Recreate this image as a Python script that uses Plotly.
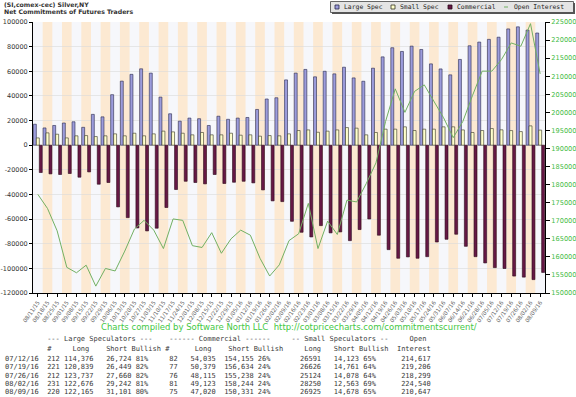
import plotly.graph_objects as go

# ---------------- data ----------------
dates = ["08/11/15","08/18/15","08/25/15","09/01/15","09/08/15","09/15/15","09/22/15","09/29/15",
         "10/06/15","10/13/15","10/20/15","10/27/15","11/03/15","11/10/15","11/17/15","11/24/15",
         "12/01/15","12/08/15","12/15/15","12/22/15","12/29/15","01/05/16","01/12/16","01/19/16",
         "01/26/16","02/02/16","02/09/16","02/16/16","02/23/16","03/01/16","03/08/16","03/15/16",
         "03/22/16","03/29/16","04/05/16","04/12/16","04/19/16","04/26/16","05/03/16","05/10/16",
         "05/17/16","05/24/16","05/31/16","06/07/16","06/14/16","06/21/16","06/28/16","07/05/16",
         "07/12/16","07/19/16","07/26/16","08/02/16","08/09/16"]

large_spec = [17000, 14000, 16000, 18000, 19000, 14500, 25000, 23000, 41000, 52000, 57500, 62000,
              58500, 39000, 25500, 19500, 22000, 21500, 16000, 23500, 21000, 22000, 22500, 29000,
              37500, 38500, 53000, 58500, 61500, 55500, 60000, 57900, 63300, 54600, 51900, 62500,
              71700, 79100, 76100, 80400, 77700, 66000, 61900, 57100, 69600, 80700, 83700, 85900,
              87652, 94390, 96077, 93434, 91064]

small_spec = [5900, 10000, 8900, 5900, 7600, 7800, 7000, 7600, 9200, 7600, 9700, 7600,
              9200, 11400, 10800, 9700, 8400, 10300, 8400, 8400, 9700, 8100, 8400, 7300,
              7800, 7600, 9200, 11900, 12400, 10500, 11400, 12400, 14300, 13800, 8400, 10300,
              13000, 13000, 14900, 11900, 13000, 13000, 14900, 14900, 12400, 10300, 11900, 13500,
              12468, 11865, 11046, 15687, 12247]

commercial = [-22200, -23300, -23800, -23000, -26000, -21700, -31700, -30300, -50100, -58800,
              -67200, -69600, -67400, -50600, -36000, -29300, -30300, -31400, -23800, -31100,
              -30100, -29300, -30600, -36300, -45200, -45800, -61800, -70700, -74500, -65300,
              -71200, -70400, -77500, -68500, -59900, -73100, -84800, -91800, -90700, -91800,
              -90500, -78600, -76400, -72300, -82100, -90500, -95600, -99400, -100120, -106255,
              -107123, -109121, -103311]

open_interest = [177300, 173400, 167200, 157100, 155600, 157700, 151900, 156800, 156100, 161600,
                 167700, 170100, 167400, 162300, 170500, 170100, 163100, 162600, 166700, 161000,
                 165000, 167400, 166000, 159600, 154700, 157800, 164500, 166400, 174800, 162300,
                 169900, 166200, 175700, 175200, 180300, 186000, 197500, 206500, 200000, 205800,
                 207600, 203000, 198500, 193000, 197500, 204700, 211400, 211400, 214617, 219206,
                 218299, 224540, 210647]

left_ticks = [100000, 80000, 60000, 40000, 20000, 0, -20000, -40000, -60000, -80000, -100000, -120000]
right_ticks = list(range(150000, 225001, 5000))

title_lines = ["(SI,comex-cec) Silver,NY", "Net Commitments of Futures Traders"]
legend_names = ["Large Spec", "Small Spec", "Commercial", "Open Interest"]
footer_text = "Charts compiled by Software North LLC  http://cotpricecharts.com/commitmentscurrent/"

tbl_dates = ["07/12/16", "07/19/16", "07/26/16", "08/02/16", "08/09/16"]
tbl_ls_n = [212, 221, 212, 231, 220]
tbl_ls_long = ["114,376", "120,839", "123,737", "122,676", "122,165"]
tbl_ls_short = ["26,724", "26,449", "27,660", "29,242", "31,101"]
tbl_ls_bull = ["81%", "82%", "82%", "81%", "80%"]
tbl_cm_n = [82, 77, 76, 81, 75]
tbl_cm_long = ["54,035", "50,379", "48,115", "49,123", "47,020"]
tbl_cm_short = ["154,155", "156,634", "155,238", "158,244", "150,331"]
tbl_cm_bull = ["26%", "24%", "24%", "24%", "24%"]
tbl_ss_long = ["26591", "26626", "25124", "28250", "26925"]
tbl_ss_short = ["14,123", "14,761", "14,078", "12,563", "14,678"]
tbl_ss_bull = ["65%", "64%", "64%", "69%", "65%"]
tbl_oi = ["214,617", "219,206", "218,299", "224,540", "210,647"]

# ---------------- styles ----------------
W, H = 576, 397
ML, MR, MT, MB = 33, 31, 22, 104
PW, PH = W - ML - MR, H - MT - MB

C_LARGE = "#9c9cdc"
C_SMALL = "#ffffcc"
C_COMM = "#661845"
C_OI = "#72b062"
C_BAND1 = "#f6f7fb"
C_BAND2 = "#fce9d2"
MONO = "DejaVu Sans Mono"
SANS = "DejaVu Sans"


def px(x):
    return (x - ML) / PW


def py(y):
    return (H - MB - y) / PH


xs = list(range(len(dates)))

fig = go.Figure()
fig.add_trace(go.Bar(x=xs, y=large_spec, name=legend_names[0], marker=dict(color=C_LARGE, line=dict(color="#26264a", width=0.6))))
fig.add_trace(go.Bar(x=xs, y=small_spec, name=legend_names[1], marker=dict(color=C_SMALL, line=dict(color="#333322", width=0.6))))
fig.add_trace(go.Bar(x=xs, y=commercial, name=legend_names[2], marker=dict(color=C_COMM, line=dict(color="#2a0818", width=0.6))))
fig.add_trace(go.Scatter(x=xs, y=open_interest, name=legend_names[3], mode="lines", yaxis="y2",
                         line=dict(color=C_OI, width=1)))

shapes = []
for i in xs:
    if i % 2 == 1:
        shapes.append(dict(type="rect", xref="x", yref="paper", x0=i - 0.5, x1=i + 0.5, y0=0, y1=1,
                           fillcolor=C_BAND2, line=dict(width=0), layer="below"))

# legend box (manual)
shapes.append(dict(type="rect", xref="paper", yref="paper", x0=px(332), x1=px(575), y0=py(14), y1=py(3),
                   fillcolor="#555555", line=dict(width=0), layer="above"))
shapes.append(dict(type="rect", xref="paper", yref="paper", x0=px(330.5), x1=px(573.5), y0=py(12.5), y1=py(1.5),
                   fillcolor="#e4e4e4", line=dict(color="#444444", width=0.8), layer="above"))
icons = [(335, C_LARGE, "#26264a"), (391, C_SMALL, "#333322"), (448, C_COMM, "#2a0818")]
for xi, fc, lc in icons:
    shapes.append(dict(type="rect", xref="paper", yref="paper", x0=px(xi), x1=px(xi + 4), y0=py(9), y1=py(5),
                       fillcolor=fc, line=dict(color=lc, width=0.8), layer="above"))
shapes.append(dict(type="line", xref="paper", yref="paper", x0=px(504), x1=px(508), y0=py(7), y1=py(7),
                   line=dict(color=C_OI, width=1), layer="above"))

annotations = []
for xl, name in zip([342, 397.5, 455, 512], legend_names):
    annotations.append(dict(xref="paper", yref="paper", x=px(xl), y=py(7.2), text=name, showarrow=False,
                            xanchor="left", yanchor="middle", font=dict(family=MONO, size=6.4, color="#222222")))

for yl, t in zip([5, 11], title_lines):
    annotations.append(dict(xref="paper", yref="paper", x=px(2), y=py(yl), text="<b>%s</b>" % t, showarrow=False,
                            xanchor="left", yanchor="middle", font=dict(family=SANS, size=6.2, color="#333333")))

annotations.append(dict(xref="paper", yref="paper", x=px(289), y=py(327), text=footer_text, showarrow=False,
                        xanchor="center", yanchor="middle", font=dict(family=SANS, size=8.5, color="#44c844")))


def place(line, col, s):
    for k, ch in enumerate(s):
        line[col + k] = ch


h1 = [" "] * 101
place(h1, 10, "--- Large Speculators ---")
place(h1, 39, "------ Commercial ------")
place(h1, 68, "-- Small Speculators --")
place(h1, 96, "Open")
h2 = [" "] * 101
place(h2, 10, "#")
place(h2, 16, "Long")
place(h2, 24, "Short")
place(h2, 30, "Bullish")
place(h2, 38, "#")
place(h2, 45, "Long")
place(h2, 53, "Short")
place(h2, 59, "Bullish")
place(h2, 71, "Long")
place(h2, 78, "Short")
place(h2, 84, "Bullish")
place(h2, 93, "Interest")

table_lines = ["".join(h1), "".join(h2)]
for i in range(len(tbl_dates)):
    table_lines.append(
        f"{tbl_dates[i]:<8}{tbl_ls_n[i]:>5}{tbl_ls_long[i]:>8}{tbl_ls_short[i]:>9}{tbl_ls_bull[i]:>4}"
        f"{tbl_cm_n[i]:>7}{tbl_cm_long[i]:>9}{tbl_cm_short[i]:>9}{tbl_cm_bull[i]:>4}"
        f"{tbl_ss_long[i]:>12}{tbl_ss_short[i]:>9}{tbl_ss_bull[i]:>4}{tbl_oi[i]:>13}")

row_y = [338.5, 348.5, 358.5, 367, 375.5, 384, 392.3]
for yl, t in zip(row_y, table_lines):
    annotations.append(dict(xref="paper", yref="paper", x=px(3), y=py(yl), text=t.replace(" ", "\u00a0"),
                            showarrow=False, xanchor="left", yanchor="middle",
                            font=dict(family=MONO, size=7, color="#3a3a3a")))

fig.update_layout(
    width=W, height=H, margin=dict(l=ML, r=MR, t=MT, b=MB, pad=0, autoexpand=False),
    paper_bgcolor="white", plot_bgcolor=C_BAND1,
    barmode="group", bargap=0.08, bargroupgap=0,
    showlegend=False,
    shapes=shapes, annotations=annotations,
    xaxis=dict(range=[-0.5, len(dates) - 0.5], tickmode="array", tickvals=xs, ticktext=dates,
               tickangle=-55, tickfont=dict(family=SANS, size=5.6, color="#666666"), automargin=False,
               ticks="outside", ticklen=3, tickcolor="#000", showline=True, linecolor="#000", linewidth=1,
               showgrid=False, zeroline=False, fixedrange=True),
    yaxis=dict(range=[-120000, 100000], tickmode="array", tickvals=left_ticks, automargin=False,
               ticktext=[str(v) for v in left_ticks], tickfont=dict(family=SANS, size=6.5, color="#333333"),
               ticks="outside", ticklen=3, tickcolor="#000", showline=True, linecolor="#000", linewidth=1,
               showgrid=True, gridcolor="#dadada", gridwidth=0.6, zeroline=False),
    yaxis2=dict(range=[150000, 225000], overlaying="y", side="right", tickmode="array", tickvals=right_ticks,
                automargin=False,
                ticktext=[str(v) for v in right_ticks], tickfont=dict(family=SANS, size=6.6, color="#44bb44"),
                ticks="outside", ticklen=4, tickcolor="#000", showline=True, linecolor="#000", linewidth=1,
                showgrid=False, zeroline=False),
)

fig.write_html("out.html", config={"displayModeBar": False, "staticPlot": True},
               post_script="document.body.style.margin='0';document.body.style.padding='0';")
